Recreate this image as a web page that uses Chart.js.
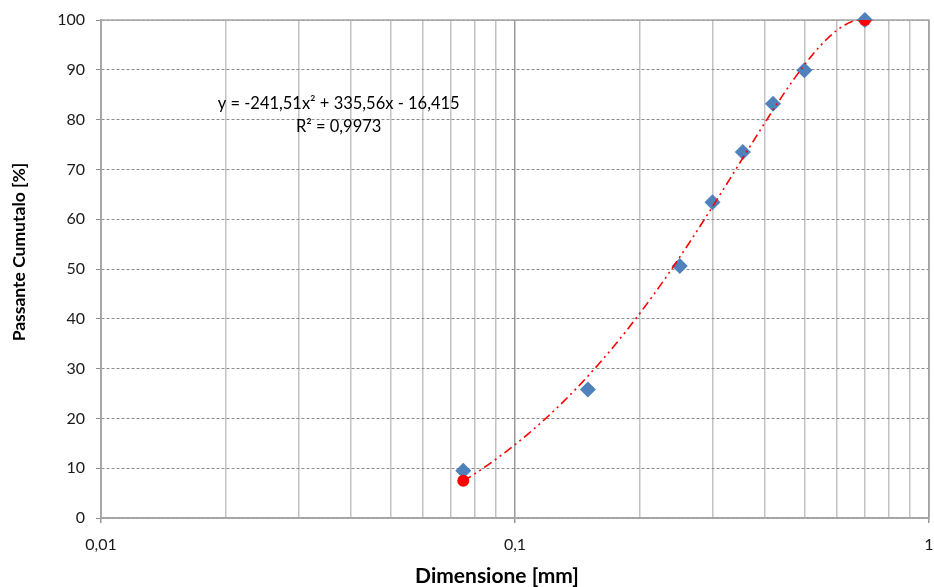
<!DOCTYPE html>
<html>
<head>
<meta charset="utf-8">
<script src="https://cdn.jsdelivr.net/npm/chart.js@4.4.1/dist/chart.umd.min.js"></script>
<style>
  html, body { margin: 0; padding: 0; background: #fff; }
  #wrap { width: 934px; height: 587px; }
</style>
</head>
<body>
<div id="wrap"><canvas id="c" width="934" height="587"></canvas></div>
<script>
// Granulometric curve: sieve size [mm] vs cumulative passing [%]
const sieveSizes   = [0.075, 0.15, 0.25, 0.3, 0.355, 0.42, 0.5, 0.7];
const passingPct   = [9.5, 25.8, 50.6, 63.4, 73.5, 83.2, 89.9, 100];

// Highlighted end points of the fitted curve
const fitEndSizes  = [0.075, 0.7];
const fitEndValues = [7.5, 100];

// Polynomial fit y = a·x² + b·x + c (coefficients as reported)
const fitCoeffs    = [-241.51, 335.56, -16.415];
const fitRange     = [0.075, 0.7];
const fitLabel     = ['y = -241,51x\u00B2 + 335,56x - 16,415', 'R\u00B2 = 0,9973'];

// Axis ticks and titles
const xTickValues  = [0.01,0.02,0.03,0.04,0.05,0.06,0.07,0.08,0.09,
                      0.1,0.2,0.3,0.4,0.5,0.6,0.7,0.8,0.9,1];
const xMajorTicks  = [0.01, 0.1, 1];
const yTickValues  = [0,10,20,30,40,50,60,70,80,90,100];
const xTitle       = 'Dimensione [mm]';
const yTitle       = 'Passante Cumutalo [%]';

const isMajor = v => xMajorTicks.some(m => Math.abs(m - v) < 1e-9);
const fmt = v => String(v).replace('.', ',');

// Sample the fitted polynomial over its range on a log-spaced grid
const fitPoints = [];
{
  const n = 80, lo = Math.log10(fitRange[0]), hi = Math.log10(fitRange[1]);
  for (let i = 0; i <= n; i++) {
    const x = Math.pow(10, lo + (hi - lo) * i / n);
    fitPoints.push({ x, y: fitCoeffs[0]*x*x + fitCoeffs[1]*x + fitCoeffs[2] });
  }
}

const FONT = 'Lato, "Open Sans", sans-serif';

// Plot-area frame, under the markers
const framePlugin = {
  id: 'frame',
  beforeDatasetsDraw(chart) {
    const { ctx, chartArea: a } = chart;
    ctx.save();
    ctx.strokeStyle = '#a6a6a6';
    ctx.lineWidth = 1.5;
    ctx.strokeRect(a.left, a.top, a.right - a.left, a.bottom - a.top);
    ctx.restore();
  }
};

// Trend-line equation and axis titles
const textPlugin = {
  id: 'texts',
  afterDraw(chart) {
    const { ctx, scales } = chart;
    const px = scales.x.getPixelForValue(0.0375);
    ctx.save();
    ctx.fillStyle = '#000';
    ctx.textAlign = 'center';
    ctx.textBaseline = 'middle';
    ctx.font = '16.5px ' + FONT;
    ctx.fillText(fitLabel[0], px, scales.y.getPixelForValue(83.2));
    ctx.fillText(fitLabel[1], px, scales.y.getPixelForValue(78.6));

    ctx.font = 'bold 21px ' + FONT;
    ctx.fillText(xTitle, 497, 576);

    ctx.font = 'bold 17.5px ' + FONT;
    ctx.translate(19, 252);
    ctx.rotate(-Math.PI / 2);
    ctx.fillText(yTitle, 0, 0);
    ctx.restore();
  }
};

new Chart(document.getElementById('c'), {
  type: 'scatter',
  data: {
    datasets: [
      {
        label: 'Passante',
        data: sieveSizes.map((x, i) => ({ x, y: passingPct[i] })),
        pointStyle: 'rectRot',
        pointRadius: 8,
        pointHoverRadius: 8,
        backgroundColor: '#4f81bd',
        borderColor: '#4f81bd',
        borderWidth: 0,
        clip: false,
        order: 2
      },
      {
        label: 'Poli.',
        type: 'line',
        data: fitPoints,
        borderColor: '#ff0000',
        borderWidth: 1.6,
        borderDash: [9, 4, 2, 4, 2, 4],
        pointRadius: 0,
        fill: false,
        tension: 0,
        order: 1
      },
      {
        label: 'Estremi',
        data: fitEndSizes.map((x, i) => ({ x, y: fitEndValues[i] })),
        pointStyle: 'circle',
        pointRadius: 6,
        backgroundColor: '#ff0000',
        borderColor: '#ff0000',
        borderWidth: 0,
        clip: 0,
        order: 0
      }
    ]
  },
  options: {
    responsive: false,
    animation: false,
    devicePixelRatio: 1,
    layout: { autoPadding: false, padding: { top: 20, right: 5, left: 0, bottom: 0 } },
    plugins: {
      legend: { display: false },
      tooltip: { enabled: false }
    },
    scales: {
      x: {
        type: 'logarithmic',
        min: 0.01,
        max: 1,
        afterBuildTicks(scale) {
          scale.ticks = xTickValues.map(v => ({ value: v, major: isMajor(v) }));
        },
        afterFit(scale) {
          scale.height = 69;
          scale.paddingLeft = 0;
          scale.paddingRight = 0;
        },
        ticks: {
          autoSkip: false,
          maxRotation: 0,
          minRotation: 0,
          padding: 12,
          color: '#1a1a1a',
          font: { family: FONT, size: 16 },
          callback: v => isMajor(v) ? fmt(v) : ''
        },
        grid: {
          color: c => (c.tick && isMajor(c.tick.value)) ? '#999999' : '#c2c2c2',
          lineWidth: 1.5,
          tickLength: 5,
          tickColor: c => (c.tick && isMajor(c.tick.value)) ? '#999999' : 'rgba(0,0,0,0)'
        },
        border: { color: '#a0a0a0', width: 1.5 },
        title: { display: false }
      },
      y: {
        min: 0,
        max: 100,
        afterBuildTicks(scale) {
          scale.ticks = yTickValues.map(v => ({ value: v }));
        },
        afterFit(scale) {
          scale.width = 101;
          scale.paddingTop = 0;
          scale.paddingBottom = 0;
        },
        ticks: {
          padding: 11,
          color: '#1a1a1a',
          font: { family: FONT, size: 16 }
        },
        grid: {
          color: '#8c8c8c',
          lineWidth: 1,
          tickLength: 5,
          tickColor: '#8c8c8c',
          tickBorderDash: []
        },
        border: { color: '#a0a0a0', width: 1.5, dash: [3, 2] },
        title: { display: false }
      }
    }
  },
  plugins: [framePlugin, textPlugin]
});
</script>
</body>
</html>
